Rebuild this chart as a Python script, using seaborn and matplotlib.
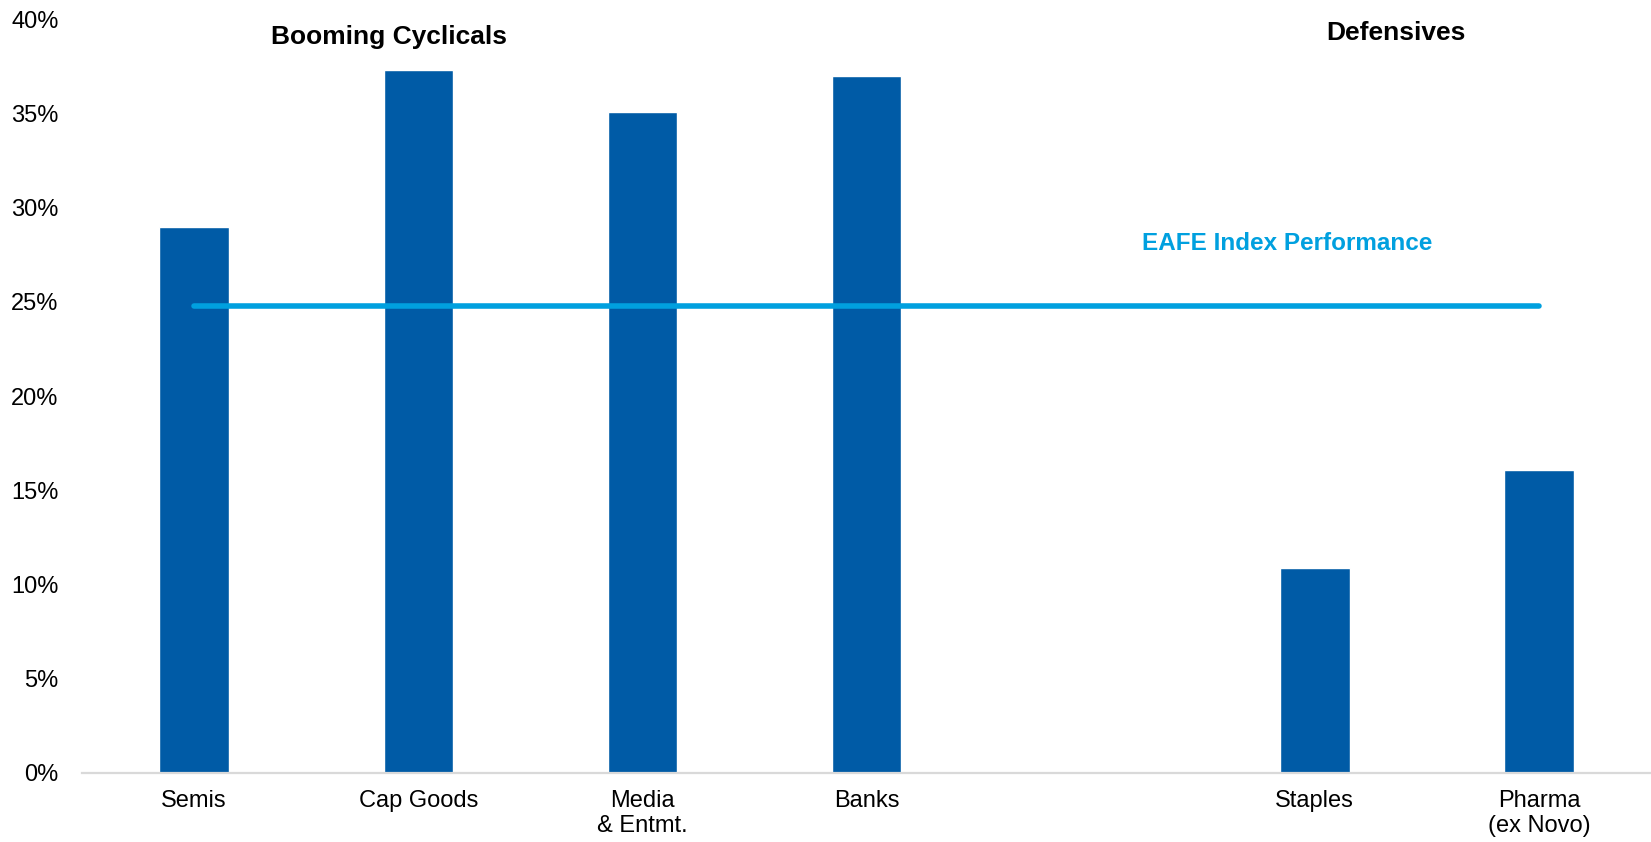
import matplotlib
matplotlib.use("Agg")
import matplotlib.pyplot as plt
import seaborn as sns
import pandas as pd
from matplotlib.ticker import FuncFormatter

sns.set_style("white")
plt.rcParams["font.family"] = ["Liberation Sans", "DejaVu Sans"]

# Sector performance (%)
sectors = ["Semis", "Cap Goods", "Media\n& Entmt.", "Banks", "Staples", "Pharma\n(ex Novo)"]
performance = [29.0, 37.3, 35.1, 37.0, 10.9, 16.1]
eafe_index = 24.8

# Slot order with a spacer between the cyclical and defensive groups
slot_order = ["Semis", "Cap Goods", "Media\n& Entmt.", "Banks", " ", "Staples", "Pharma\n(ex Novo)"]
y_ticks = [0, 5, 10, 15, 20, 25, 30, 35, 40]

bar_color = "#005BA6"
line_color = "#00A0DF"

df = pd.DataFrame({"sector": sectors, "perf": performance})

fig = plt.figure(figsize=(16.51, 8.42), dpi=100)
ax = fig.add_axes([0.0497, 0.082, 0.9503, 0.895])

sns.barplot(data=df, x="sector", y="perf", order=slot_order, color=bar_color,
            width=0.31, saturation=1, ax=ax, errorbar=None)

ax.plot([0, len(slot_order) - 1], [eafe_index, eafe_index], color=line_color,
        lw=4.0, solid_capstyle="round", zorder=3)

ax.set_xlim(-0.5, len(slot_order) - 0.5)
ax.set_ylim(0, 40)
ax.set_yticks(y_ticks)
ax.yaxis.set_major_formatter(FuncFormatter(lambda v, _: f"{v:.0f}%"))
ax.set_xlabel("")
ax.set_ylabel("")
ax.tick_params(axis="y", length=0, pad=17, labelsize=17, labelcolor="black")
ax.tick_params(axis="x", length=0, pad=12, labelsize=17, labelcolor="black")
for lbl in ax.get_xticklabels():
    lbl.set_linespacing(1.2)
    lbl.set_verticalalignment("top")

for side in ["left", "right", "top"]:
    ax.spines[side].set_visible(False)
ax.spines["bottom"].set_color("#D9D9D9")
ax.spines["bottom"].set_linewidth(1.6)

ax.text(0.87, 39.05, "Booming Cyclicals", ha="center", va="center",
        fontsize=19, fontweight="bold", color="black")
ax.text(5.36, 39.3, "Defensives", ha="center", va="center",
        fontsize=19, fontweight="bold", color="black")
ax.text(4.875, 28.1, "EAFE Index Performance", ha="center", va="center",
        fontsize=17.5, fontweight="bold", color=line_color)

fig.savefig("out.png", dpi=100)
